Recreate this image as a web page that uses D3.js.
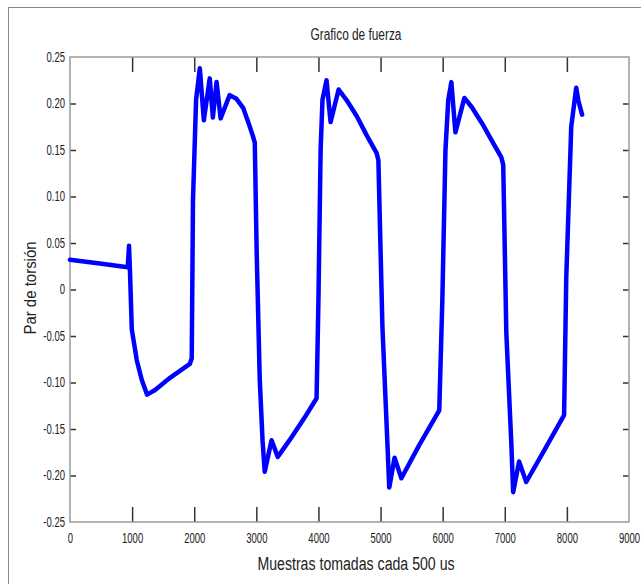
<!DOCTYPE html>
<html>
<head>
<meta charset="utf-8">
<script src="https://cdn.jsdelivr.net/npm/d3@7"></script>
<style>
  body { margin: 0; background: #fff; }
  svg { display: block; }
  text { font-family: "Liberation Sans", Arial, sans-serif; fill: #222; }
</style>
</head>
<body>
<div id="chart"></div>
<script>
// muestras (eje x) y par de torsion (eje y)
var samples = [0, 480, 930, 950, 965, 995, 1075, 1155, 1240, 1370, 1610, 1930, 1960,
    1980, 2030, 2090, 2155, 2250, 2300, 2360, 2425, 2570, 2680, 2790, 2880, 2940, 2975,
    3005, 3055, 3100, 3135, 3245, 3345, 3535, 3775, 3970,
    4000, 4035, 4065, 4130, 4195, 4325, 4450, 4620, 4775, 4935, 4965,
    5030, 5110, 5140, 5225, 5335, 5625, 5945,
    5995, 6045, 6090, 6140, 6205, 6350, 6470, 6640, 6800, 6945, 6975,
    7025, 7105, 7135, 7230, 7345, 7635, 7955,
    7990, 8070, 8150, 8185, 8245];
var torque = [0.032, 0.028, 0.024, 0.047, 0.021, -0.043, -0.076, -0.097, -0.113, -0.108, -0.095, -0.080, -0.074,
    0.096, 0.204, 0.238, 0.182, 0.227, 0.185, 0.223, 0.184, 0.209, 0.205, 0.195, 0.178, 0.166, 0.158,
    0.042, -0.097, -0.162, -0.196, -0.162, -0.180, -0.162, -0.138, -0.117,
    -0.011, 0.150, 0.204, 0.225, 0.180, 0.215, 0.204, 0.186, 0.166, 0.147, 0.139,
    -0.040, -0.165, -0.213, -0.181, -0.203, -0.167, -0.130,
    -0.011, 0.150, 0.204, 0.223, 0.169, 0.206, 0.196, 0.178, 0.159, 0.142, 0.134,
    -0.047, -0.165, -0.218, -0.185, -0.207, -0.173, -0.135,
    0.013, 0.175, 0.217, 0.203, 0.188];

var xTicks = [0, 1000, 2000, 3000, 4000, 5000, 6000, 7000, 8000, 9000];
var yTicks = [-0.25, -0.2, -0.15, -0.1, -0.05, 0, 0.05, 0.1, 0.15, 0.2, 0.25];

var width = 641, height = 584;
var plotL = 70, plotR = 629, plotT = 57, plotB = 522;

var svg = d3.select('#chart').append('svg')
    .attr('width', width)
    .attr('height', height);

// estrecha el texto como la fuente condensada del original
function narrow(sel, k) {
    sel.each(function() {
        var len = this.getComputedTextLength();
        d3.select(this).attr('textLength', len * k).attr('lengthAdjust', 'spacingAndGlyphs');
    });
}

// marco exterior
svg.append('rect')
    .attr('x', 8.5).attr('y', 7.5)
    .attr('width', 700).attr('height', 700)
    .attr('fill', 'none')
    .attr('stroke', '#8a8a8a')
    .attr('stroke-width', 1);

var x = d3.scaleLinear().domain([0, 9000]).range([plotL, plotR]);
var y = d3.scaleLinear().domain([-0.25, 0.25]).range([plotB, plotT]);

var points = samples.map(function(d, i) { return [d, torque[i]]; });

var fmtY = function(v) { return v === 0 ? '0' : v.toFixed(2); };

// ejes
var gBottom = svg.append('g').attr('transform', 'translate(0,' + plotB + ')')
    .call(d3.axisBottom(x).tickValues(xTicks).tickSize(-15).tickPadding(11).tickFormat(d3.format('d')));
var gTop = svg.append('g').attr('transform', 'translate(0,' + plotT + ')')
    .call(d3.axisTop(x).tickValues(xTicks).tickSize(-15).tickFormat(''));
var gLeft = svg.append('g').attr('transform', 'translate(' + plotL + ',0)')
    .call(d3.axisLeft(y).tickValues(yTicks).tickSize(-6).tickPadding(5).tickFormat(fmtY));
var gRight = svg.append('g').attr('transform', 'translate(' + plotR + ',0)')
    .call(d3.axisRight(y).tickValues(yTicks).tickSize(-6).tickFormat(''));

[gBottom, gTop, gLeft, gRight].forEach(function(g) {
    var isX = (g === gBottom || g === gTop);
    g.select('.domain').remove();
    g.selectAll('.tick line').attr('stroke', '#333').attr('stroke-width', 1.5);
    g.selectAll('.tick text').attr('font-size', 14).attr('fill', '#333').attr('font-family', null);
    g.selectAll('.tick').filter(function(d) {
        return isX ? (d === 0 || d === 9000) : Math.abs(Math.abs(d) - 0.25) < 1e-9;
    }).select('line').remove();
    narrow(g.selectAll('.tick text'), 0.68);
});

svg.append('rect')
    .attr('x', plotL).attr('y', plotT)
    .attr('width', plotR - plotL).attr('height', plotB - plotT)
    .attr('fill', 'none')
    .attr('stroke', '#9a9a9a')
    .attr('stroke-width', 1.5);

// curva
svg.append('path')
    .datum(points)
    .attr('fill', 'none')
    .attr('stroke', '#0000ff')
    .attr('stroke-width', 4.5)
    .attr('stroke-linejoin', 'round')
    .attr('stroke-linecap', 'round')
    .attr('d', d3.line().x(function(d) { return x(d[0]); }).y(function(d) { return y(d[1]); }));

// textos
svg.append('text')
    .attr('x', 356).attr('y', 40)
    .attr('text-anchor', 'middle')
    .attr('font-size', 16)
    .text('Grafico de fuerza')
    .call(narrow, 0.74);

svg.append('text')
    .attr('x', 356).attr('y', 570)
    .attr('text-anchor', 'middle')
    .attr('font-size', 18)
    .text('Muestras tomadas cada 500 us')
    .call(narrow, 0.785);

svg.append('text')
    .attr('transform', 'translate(36,288) rotate(-90)')
    .attr('text-anchor', 'middle')
    .attr('font-size', 17)
    .text('Par de torsión')
    .call(narrow, 0.88);
</script>
</body>
</html>
